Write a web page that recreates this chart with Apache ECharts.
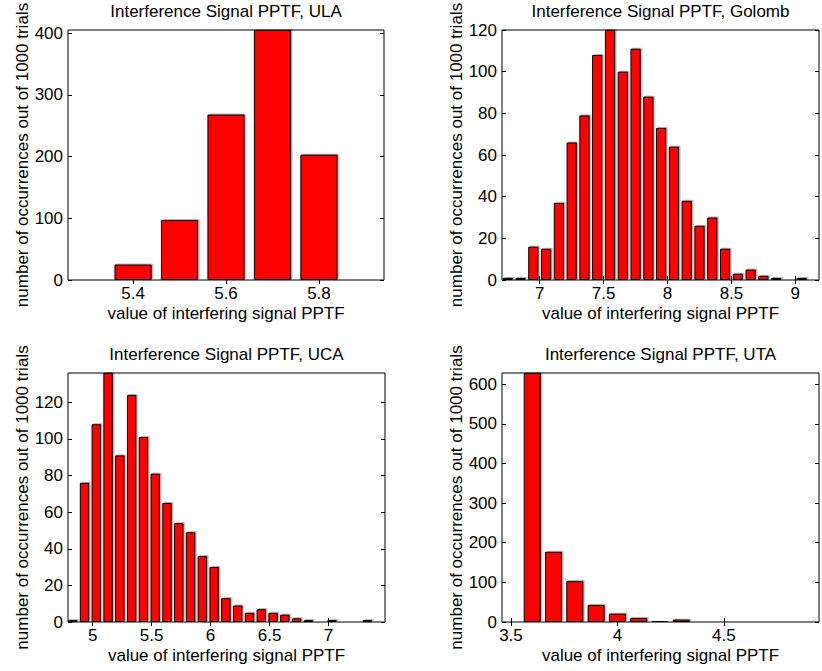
<!DOCTYPE html>
<html><head><meta charset="utf-8">
<script src="https://cdn.jsdelivr.net/npm/echarts/dist/echarts.min.js"></script>
<style>html,body{margin:0;padding:0;background:#fff}#c{width:822px;height:671px}</style>
</head><body><div id="c"></div>
<script>
// ---- ULA ----
const ulaTitle = 'Interference Signal PPTF, ULA';
const ulaCenters = [5.3, 5.4, 5.5, 5.6, 5.7, 5.8, 5.9];
const ulaCounts = [0, 25, 97, 268, 405, 203, 0];
const ulaXTicks = [5.4, 5.6, 5.8];
const ulaYTicks = [0, 100, 200, 300, 400];
// ---- Golomb ----
const golTitle = 'Interference Signal PPTF, Golomb';
const golCenters = [6.75, 6.85, 6.95, 7.05, 7.15, 7.25, 7.35, 7.45, 7.55, 7.65, 7.75, 7.85, 7.95, 8.05, 8.15, 8.25, 8.35, 8.45, 8.55, 8.65, 8.75, 8.85, 8.95, 9.05];
const golCounts = [1, 1, 16, 15, 37, 66, 79, 108, 120, 100, 111, 88, 73, 64, 38, 26, 30, 15, 3, 5, 2, 1, 0, 1];
const golXTicks = [7, 7.5, 8, 8.5, 9];
const golYTicks = [0, 20, 40, 60, 80, 100, 120];
// ---- UCA ----
const ucaTitle = 'Interference Signal PPTF, UCA';
const ucaCenters = [4.83, 4.93, 5.03, 5.13, 5.23, 5.33, 5.43, 5.53, 5.63, 5.73, 5.83, 5.93, 6.03, 6.13, 6.23, 6.33, 6.43, 6.53, 6.63, 6.73, 6.83, 6.93, 7.03, 7.13, 7.23, 7.33];
const ucaCounts = [1, 76, 108, 136, 91, 124, 101, 81, 65, 54, 49, 36, 30, 13, 9, 5, 7, 5, 4, 2, 1, 0, 1, 0, 0, 1];
const ucaXTicks = [5, 5.5, 6, 6.5, 7];
const ucaYTicks = [0, 20, 40, 60, 80, 100, 120];
// ---- UTA ----
const utaTitle = 'Interference Signal PPTF, UTA';
const utaCenters = [3.5, 3.6, 3.7, 3.8, 3.9, 4.0, 4.1, 4.2, 4.3, 4.4, 4.5, 4.6, 4.7, 4.8, 4.9];
const utaCounts = [0, 628, 177, 103, 43, 21, 10, 3, 6, 2, 1, 0, 0, 1, 0];
const utaXTicks = [3.5, 4, 4.5];
const utaYTicks = [0, 100, 200, 300, 400, 500, 600];

const xName = 'value of interfering signal PPTF';
const yName = 'number of occurrences out of 1000 trials';

const FONT = 'Liberation Sans';
const FS = 17;

const panels = [
  {title: ulaTitle, centers: ulaCenters, counts: ulaCounts, xt: ulaXTicks, yt: ulaYTicks,
   box: {left: 68, top: 30, width: 316, height: 250}, x: [5.26, 5.94], y: [0, 405]},
  {title: golTitle, centers: golCenters, counts: golCounts, xt: golXTicks, yt: golYTicks,
   box: {left: 502, top: 30, width: 317, height: 250}, x: [6.705, 9.185], y: [0, 120]},
  {title: ucaTitle, centers: ucaCenters, counts: ucaCounts, xt: ucaXTicks, yt: ucaYTicks,
   box: {left: 68, top: 373, width: 317, height: 249}, x: [4.79, 7.48], y: [0, 136]},
  {title: utaTitle, centers: utaCenters, counts: utaCounts, xt: utaXTicks, yt: utaYTicks,
   box: {left: 502, top: 373, width: 317, height: 249}, x: [3.458, 4.947], y: [0, 628]}
];

const grid = [], xAxis = [], yAxis = [], series = [], title = [];
const txt = {color: '#000', fontFamily: FONT, fontSize: FS};

panels.forEach((p, i) => {
  grid.push(Object.assign({show: true, borderColor: '#000', borderWidth: 1, backgroundColor: '#fff',
    containLabel: false, outerBoundsMode: 'none'}, p.box));
  title.push({text: p.title, left: p.box.left + p.box.width / 2, top: p.box.top - 27, textAlign: 'center',
    padding: 0, textStyle: {color: '#000', fontFamily: FONT, fontSize: FS, fontWeight: 'normal'}});
  const tick = (vals) => ({show: true, inside: true, length: 4, customValues: vals, lineStyle: {color: '#000', width: 1}});
  xAxis.push({type: 'value', gridIndex: i, position: 'bottom', min: p.x[0], max: p.x[1],
    axisLine: {show: false}, splitLine: {show: false},
    axisTick: tick(p.xt),
    axisLabel: Object.assign({customValues: p.xt, margin: 5, showMinLabel: true, showMaxLabel: true, hideOverlap: false}, txt),
    name: xName, nameLocation: 'middle', nameGap: 25, nameTextStyle: txt});
  xAxis.push({type: 'value', gridIndex: i, position: 'top', min: p.x[0], max: p.x[1],
    axisLine: {show: false}, splitLine: {show: false}, axisTick: tick(p.xt), axisLabel: {show: false}});
  yAxis.push({type: 'value', gridIndex: i, position: 'left', min: p.y[0], max: p.y[1],
    axisLine: {show: false}, splitLine: {show: false},
    axisTick: tick(p.yt),
    axisLabel: Object.assign({customValues: p.yt, margin: 5, hideOverlap: false}, txt),
    name: yName, nameLocation: 'middle', nameGap: 37, nameRotate: 90, nameTextStyle: txt});
  yAxis.push({type: 'value', gridIndex: i, position: 'right', min: p.y[0], max: p.y[1],
    axisLine: {show: false}, splitLine: {show: false}, axisTick: tick(p.yt), axisLabel: {show: false}});
  series.push({type: 'bar', xAxisIndex: 2 * i, yAxisIndex: 2 * i, barWidth: '80%', silent: true,
    data: p.centers.map((c, k) => [c, p.counts[k]]),
    itemStyle: {color: '#ff0000', borderColor: '#000', borderWidth: 1,
      shadowColor: 'rgba(0,0,0,0.3)', shadowBlur: 0, shadowOffsetX: 1.5, shadowOffsetY: -1}});
});

const chart = echarts.init(document.getElementById('c'), null, {renderer: 'svg'});
chart.setOption({animation: false, backgroundColor: '#fff', title, grid, xAxis, yAxis, series});
</script>
</body></html>
